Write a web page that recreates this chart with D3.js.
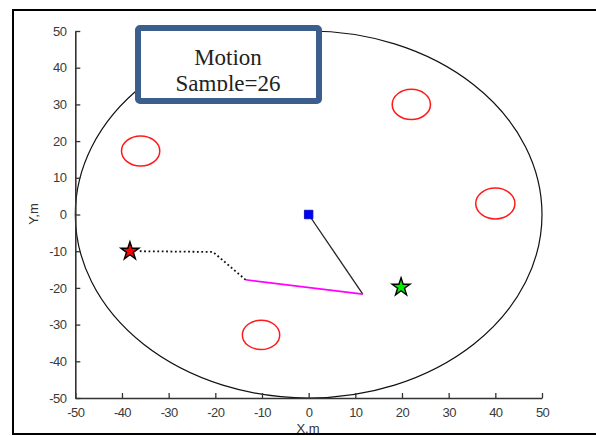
<!DOCTYPE html>
<html>
<head>
<meta charset="utf-8">
<script src="https://cdn.jsdelivr.net/npm/d3@7"></script>
<style>
  body { margin: 0; background: #fff; }
  svg { display: block; }
</style>
</head>
<body>
<svg id="chart" width="596" height="436"></svg>
<script>
// tick labels
const xTicks = [-50, -40, -30, -20, -10, 0, 10, 20, 30, 40, 50]
const yTicks = [-50, -40, -30, -20, -10, 0, 10, 20, 30, 40, 50]

// workspace boundary (circle) and obstacles
const boundary = { x: 0, y: 0, r: 50 }
const obstacles = [
  { x: 22, y: 30, r: 4.1 },
  { x: -36, y: 17.3, r: 4.1 },
  { x: 40, y: 3, r: 4.2 },
  { x: -10.2, y: -32.8, r: 4.0 }
]

// trajectory pieces
const solidPath = [[0, 0], [11.6, -21.7]]
const magentaPath = [[11.6, -21.7], [-13.5, -17.8]]
const dottedPath = [[-13.5, -17.8], [-20.5, -10.2], [-36.5, -10]]

const robot = [0, 0]
const startStar = [-38.3, -10]
const goalStar = [19.8, -19.8]

const boxLines = ['Motion', 'Sample=26']

const svg = d3.select('#chart')

const xScale = d3.scaleLinear().domain([-50, 50]).range([75.3, 542])
const yScale = d3.scaleLinear().domain([-50, 50]).range([398, 31])

// outer frame
svg.append('rect')
  .attr('x', 13).attr('y', 10)
  .attr('width', 600).attr('height', 424)
  .attr('fill', 'none')
  .attr('stroke', '#000')
  .attr('stroke-width', 2)

const plot = svg.append('g')

// boundary circle
plot.append('ellipse')
  .attr('cx', xScale(boundary.x))
  .attr('cy', yScale(boundary.y))
  .attr('rx', xScale(boundary.r) - xScale(0))
  .attr('ry', yScale(0) - yScale(boundary.r))
  .attr('fill', 'none')
  .attr('stroke', '#111')
  .attr('stroke-width', 1.2)

// obstacles
plot.selectAll('.obs')
  .data(obstacles)
  .enter()
  .append('ellipse')
  .attr('class', 'obs')
  .attr('cx', d => xScale(d.x))
  .attr('cy', d => yScale(d.y))
  .attr('rx', d => xScale(d.r) - xScale(0))
  .attr('ry', d => yScale(0) - yScale(d.r))
  .attr('fill', 'none')
  .attr('stroke', '#ff1a1a')
  .attr('stroke-width', 1.5)

const line = d3.line()
  .x(d => xScale(d[0]))
  .y(d => yScale(d[1]))

plot.append('path')
  .datum(solidPath)
  .attr('d', line)
  .attr('fill', 'none')
  .attr('stroke', '#222')
  .attr('stroke-width', 1.3)

plot.append('path')
  .datum(magentaPath)
  .attr('d', line)
  .attr('fill', 'none')
  .attr('stroke', '#ff00ff')
  .attr('stroke-width', 1.6)

plot.append('path')
  .datum(dottedPath)
  .attr('d', line)
  .attr('fill', 'none')
  .attr('stroke', '#111')
  .attr('stroke-width', 1.8)
  .attr('stroke-dasharray', '1.8,2.6')

// markers
plot.append('path')
  .attr('d', d3.symbol(d3.symbolSquare, 72)())
  .attr('transform', `translate(${xScale(robot[0])},${yScale(robot[1])})`)
  .attr('fill', '#0000ff')
  .attr('stroke', '#0000aa')
  .attr('stroke-width', 0.8)

const star = d3.symbol(d3.symbolStar, 100)
plot.append('path')
  .attr('d', star())
  .attr('transform', `translate(${xScale(startStar[0])},${yScale(startStar[1])})`)
  .attr('fill', '#ff0000')
  .attr('stroke', '#000')
  .attr('stroke-width', 1.4)
plot.append('path')
  .attr('d', star())
  .attr('transform', `translate(${xScale(goalStar[0])},${yScale(goalStar[1])})`)
  .attr('fill', '#00ee00')
  .attr('stroke', '#000')
  .attr('stroke-width', 1.4)

// axes (ticks inside, MATLAB style)
const xAxis = d3.axisBottom(xScale)
  .tickValues(xTicks)
  .tickFormat(d => String(d))
  .tickSizeInner(-5)
  .tickSizeOuter(0)
  .tickPadding(10)
const yAxis = d3.axisLeft(yScale)
  .tickValues(yTicks)
  .tickFormat(d => String(d))
  .tickSizeInner(-5)
  .tickSizeOuter(0)
  .tickPadding(9)

svg.append('g')
  .attr('transform', `translate(0,${yScale(-50)})`)
  .call(xAxis)
svg.append('g')
  .attr('transform', `translate(${xScale(-50)},0)`)
  .call(yAxis)

svg.selectAll('.domain').attr('stroke', '#333').attr('stroke-width', 1.6)
svg.selectAll('.tick line').attr('stroke', '#333').attr('stroke-width', 1.3)
svg.selectAll('.tick text')
  .attr('fill', '#3a3a3a')
  .style('font-family', 'Liberation Sans, Arial, sans-serif')
  .style('font-size', '13px')
  .style('letter-spacing', '-0.6px')

// axis labels
svg.append('text')
  .attr('x', 308)
  .attr('y', 433)
  .attr('text-anchor', 'middle')
  .attr('fill', '#333')
  .style('font-family', 'Liberation Sans, Arial, sans-serif')
  .style('font-size', '13px')
  .text('X,m')
svg.append('text')
  .attr('transform', 'translate(38,214) rotate(-90)')
  .attr('text-anchor', 'middle')
  .attr('fill', '#333')
  .style('font-family', 'Liberation Sans, Arial, sans-serif')
  .style('font-size', '13px')
  .text('Y,m')

// redraw bottom frame over x label
svg.append('line')
  .attr('x1', 13).attr('x2', 596)
  .attr('y1', 434).attr('y2', 434)
  .attr('stroke', '#000')
  .attr('stroke-width', 2)

// annotation box
const box = svg.append('g')
svg.append('clipPath').attr('id', 'boxclip')
  .append('rect')
  .attr('x', 141).attr('y', 31).attr('width', 175).attr('height', 60)

box.append('rect')
  .attr('x', 138).attr('y', 28)
  .attr('width', 181).attr('height', 73)
  .attr('rx', 2)
  .attr('fill', '#fff')
  .attr('stroke', '#3b5e8c')
  .attr('stroke-width', 6)

box.append('g')
  .attr('clip-path', 'url(#boxclip)')
  .selectAll('text')
  .data(boxLines)
  .enter()
  .append('text')
  .attr('x', 228)
  .attr('y', (d, i) => 65 + i * 25.5)
  .attr('text-anchor', 'middle')
  .attr('fill', '#222')
  .style('font-family', 'Liberation Serif, Times New Roman, serif')
  .style('font-size', '23px')
  .text(d => d)
</script>
</body>
</html>
